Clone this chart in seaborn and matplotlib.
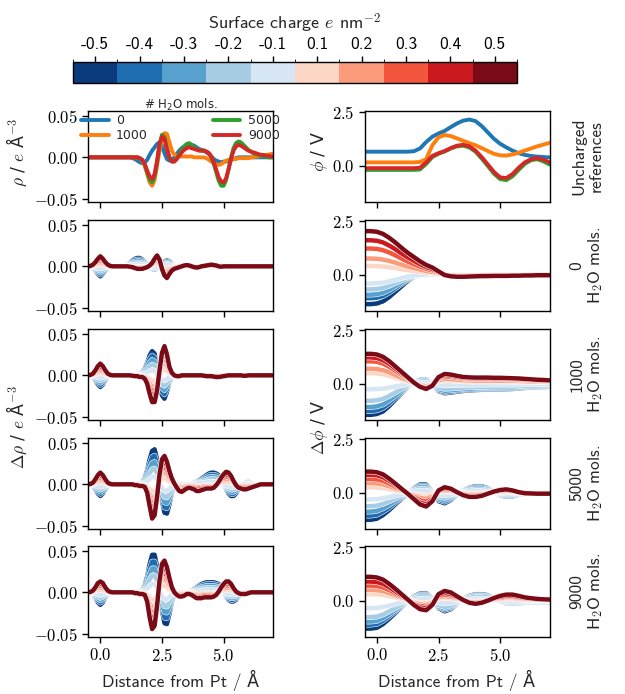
import numpy as np
import pandas as pd
import seaborn as sns
import matplotlib
matplotlib.use("Agg")
import matplotlib.pyplot as plt
import matplotlib.patheffects as pe
from matplotlib.colors import ListedColormap, BoundaryNorm
from matplotlib.ticker import FuncFormatter
import matplotlib.colorbar as mcolorbar

# ---------------- data ----------------
charges = [-0.5, -0.4, -0.3, -0.2, -0.1, 0.1, 0.2, 0.3, 0.4, 0.5]
charge_labels = ["-0.5", "-0.4", "-0.3", "-0.2", "-0.1", "0.1", "0.2", "0.3", "0.4", "0.5"]
charge_colors = ["#0b3b7c", "#1f6db1", "#58a1cf", "#a6cde3", "#d6e6f4",
                 "#fdd7c6", "#fb9b7b", "#f3553d", "#c9191e", "#7a0a16"]
n_water = ["0", "1000", "5000", "9000"]
ref_colors = ["#1f77b4", "#ff7f0e", "#2ca02c", "#d62728"]
row_names = ["Uncharged\nreferences", "0\nH$_2$O mols.", "1000\nH$_2$O mols.",
             "5000\nH$_2$O mols.", "9000\nH$_2$O mols."]

x_rho = np.round(np.arange(-0.5, 7.0001, 0.1), 2)    # 76 samples
x_phi = np.round(np.arange(-0.5, 7.0001, 0.25), 2)   # 31 samples

Z10 = [0.0] * 10

# uncharged reference charge densities (e / A^3)
rho_ref_0 = (Z10 +
             [0, 0, 0, 0, 0, 0, 0, 0, -0.001, -0.002] +
             [-0.004, -0.006, -0.007, -0.006, -0.003, 0.003, 0.008, 0.012, 0.016, 0.018] +
             [0.014, 0.005, -0.002, -0.004, -0.003, 0.000, 0.004, 0.008, 0.011, 0.013] +
             [0.015, 0.015, 0.015, 0.014, 0.012, 0.010, 0.009, 0.008, 0.006, 0.004] +
             [0.001, -0.002, -0.004, -0.005, -0.006, -0.005, -0.005, -0.004, -0.003, -0.002] +
             [-0.001, 0, 0, 0, 0, 0, 0, 0, 0, 0] +
             [0, 0, 0, 0, 0, 0])
rho_ref_1000 = (Z10 + Z10 +
                [0, -0.001, -0.004, -0.010, -0.020, -0.030, -0.034, -0.027, -0.010, 0.008] +
                [0.022, 0.029, 0.028, 0.018, 0.008, 0.003, 0.002, 0.002, 0.001, 0.001] +
                [0.001, 0.001, 0.001, 0.000, 0.000, 0.000, 0.000, 0.000, -0.001, -0.003] +
                [-0.005, -0.007, -0.009, -0.009, -0.008, -0.006, -0.004, -0.003, -0.002, -0.002] +
                [-0.002, -0.001, -0.001, -0.001, -0.001, -0.001, 0.000, 0.000, 0.001, 0.001] +
                [0.002, 0.002, 0.003, 0.003, 0.004, 0.004])
rho_ref_5000 = (Z10 + Z10 +
                [0, -0.001, -0.003, -0.009, -0.018, -0.027, -0.030, -0.023, -0.006, 0.015] +
                [0.027, 0.024, 0.011, 0.000, -0.005, -0.005, -0.001, 0.004, 0.009, 0.013] +
                [0.016, 0.017, 0.015, 0.012, 0.010, 0.009, 0.008, 0.008, 0.007, 0.005] +
                [0.000, -0.008, -0.018, -0.028, -0.034, -0.034, -0.027, -0.014, 0.000, 0.011] +
                [0.017, 0.019, 0.018, 0.015, 0.012, 0.009, 0.007, 0.005, 0.004, 0.003] +
                [0.002, 0.001, 0.001, 0.000, 0.000, 0.000])
rho_ref_9000 = (Z10 + Z10 +
                [0, -0.001, -0.003, -0.008, -0.016, -0.023, -0.026, -0.020, -0.004, 0.016] +
                [0.025, 0.022, 0.010, 0.000, -0.005, -0.005, -0.002, 0.002, 0.006, 0.009] +
                [0.011, 0.012, 0.011, 0.010, 0.009, 0.008, 0.008, 0.008, 0.007, 0.005] +
                [0.001, -0.006, -0.015, -0.024, -0.029, -0.030, -0.025, -0.014, -0.002, 0.008] +
                [0.013, 0.015, 0.014, 0.012, 0.010, 0.008, 0.007, 0.006, 0.005, 0.004] +
                [0.003, 0.003, 0.002, 0.002, 0.001, 0.001])

# uncharged reference potentials (V)
phi_ref_0 = [0.65, 0.65, 0.65, 0.65, 0.65, 0.65, 0.65, 0.65, 0.67, 0.80,
             1.10, 1.35, 1.50, 1.62, 1.80, 1.97, 2.10, 2.15, 2.08, 1.85,
             1.55, 1.25, 1.02, 0.85, 0.70, 0.58, 0.50, 0.45, 0.42, 0.40, 0.38]
phi_ref_1000 = [0.15, 0.15, 0.15, 0.15, 0.15, 0.15, 0.15, 0.15, 0.15, 0.17,
                0.30, 0.95, 1.32, 1.43, 1.38, 1.27, 1.16, 1.05, 0.95, 0.82,
                0.68, 0.55, 0.48, 0.47, 0.52, 0.60, 0.70, 0.80, 0.90, 0.98, 1.06]
phi_ref_5000 = [-0.20, -0.20, -0.20, -0.20, -0.20, -0.20, -0.20, -0.20, -0.20, -0.18,
                0.08, 0.40, 0.55, 0.66, 0.80, 0.90, 0.93, 0.85, 0.65, 0.33,
                -0.02, -0.38, -0.63, -0.68, -0.50, -0.20, 0.08, 0.25, 0.30, 0.20, 0.05]
phi_ref_9000 = [-0.12, -0.12, -0.12, -0.12, -0.12, -0.12, -0.12, -0.12, -0.12, -0.10,
                0.15, 0.45, 0.58, 0.68, 0.82, 0.93, 0.97, 0.90, 0.70, 0.40,
                0.05, -0.30, -0.55, -0.58, -0.40, -0.10, 0.15, 0.30, 0.35, 0.28, 0.15]

# charge density response, extreme charges (-0.5 blue / +0.5 red)
drho_0_neg = ([0, -0.0005, -0.002, -0.005, -0.009, -0.012, -0.009, -0.005, -0.002, -0.0005] +
              [0, 0, 0, 0, 0, 0.001, 0.002, 0.004, 0.007, 0.009] +
              [0.010, 0.010, 0.008, 0.005, 0.002, -0.001, -0.003, -0.004, -0.002, 0.001] +
              [0.004, 0.006, 0.007, 0.006, 0.003, 0.000, -0.002, -0.002, -0.001, 0] +
              [-0.0005, -0.001, -0.001, -0.0005, 0, 0, 0, 0, 0, -0.0005] +
              [-0.001, -0.001, -0.001, -0.0015, -0.0015, -0.0015, -0.001, -0.001, -0.0005, 0] +
              Z10 + [0, 0, 0, 0, 0, 0])
drho_0_pos = ([0, 0.0005, 0.002, 0.005, 0.009, 0.012, 0.009, 0.005, 0.002, 0.0005] +
              [0, 0, 0, 0, 0, 0, 0, -0.0005, -0.001, -0.002] +
              [-0.003, -0.003, -0.003, -0.002, -0.001, 0.001, 0.004, 0.009, 0.013, 0.008] +
              [-0.003, -0.011, -0.014, -0.009, -0.005, -0.003, -0.002, -0.001, 0.000, 0.001] +
              [0.0015, 0.001, 0.0, -0.001, -0.0015, -0.001, 0, 0.0005, 0.001, 0.0015] +
              [0.002, 0.0015, 0.001, 0, -0.0005, 0, 0, 0, 0, 0] +
              Z10 + [0, 0, 0, 0, 0, 0])
drho_1000_neg = ([0, -0.0005, -0.002, -0.006, -0.011, -0.014, -0.011, -0.006, -0.002, -0.0005] +
                 [0, 0, 0, 0, 0, 0, 0, 0, 0, 0.0005] +
                 [0.001, 0.002, 0.004, 0.008, 0.015, 0.024, 0.029, 0.026, 0.010, -0.011] +
                 [-0.024, -0.028, -0.020, -0.008, -0.002, 0.000, 0.001, 0.001, 0.001, 0.0005] +
                 [0.0005, 0, 0, 0, 0, 0, 0, 0, -0.0005, -0.001] +
                 [-0.0015, -0.002, -0.0025, -0.0025, -0.002, -0.0015, -0.001, -0.0005, 0, 0] +
                 Z10 + [0, 0, 0, 0, 0, 0])
drho_1000_pos = ([0, 0.0005, 0.002, 0.006, 0.011, 0.014, 0.011, 0.006, 0.002, 0.0005] +
                 [0, 0, 0, 0, 0, 0, 0, 0, -0.0005, -0.001] +
                 [-0.001, -0.002, -0.002, -0.004, -0.010, -0.022, -0.032, -0.032, -0.018, 0.006] +
                 [0.027, 0.035, 0.025, 0.010, 0.003, 0.000, -0.001, -0.001, 0, 0] +
                 [0, 0, 0, 0, 0, 0, 0, -0.0005, -0.001, -0.001] +
                 [-0.001, -0.0015, -0.002, -0.002, -0.0015, -0.001, -0.0005, 0, 0, 0] +
                 [0, 0, 0, -0.0005, -0.0005, 0, 0, 0, 0, 0] + [0, 0, 0, 0, 0, 0])
drho_5000_neg = ([0, -0.0005, -0.002, -0.006, -0.011, -0.014, -0.011, -0.006, -0.002, -0.0005] +
                 [0, 0, 0, 0, 0, 0, 0, 0, 0, 0.0005] +
                 [0.001, 0.001, 0.003, 0.008, 0.017, 0.030, 0.040, 0.042, 0.030, 0.006] +
                 [-0.020, -0.034, -0.035, -0.024, -0.010, -0.002, 0.001, 0.000, -0.001, -0.001] +
                 [0, 0.001, 0.001, 0.002, 0.003, 0.005, 0.007, 0.009, 0.011, 0.013] +
                 [0.014, 0.014, 0.013, 0.011, 0.006, 0.000, -0.006, -0.011, -0.014, -0.014] +
                 [-0.011, -0.006, -0.002, 0.001, 0.002, 0.003, 0.002, 0.001, 0, 0] +
                 [0, 0, 0, 0, 0, 0])
drho_5000_pos = ([0, 0.0005, 0.002, 0.006, 0.011, 0.014, 0.011, 0.006, 0.002, 0.0005] +
                 [0, 0, 0, 0, 0, 0, 0, 0, 0, -0.001] +
                 [-0.001, -0.002, -0.002, -0.003, -0.010, -0.026, -0.041, -0.037, -0.015, 0.012] +
                 [0.030, 0.034, 0.027, 0.016, 0.007, 0.001, -0.004, -0.008, -0.009, -0.007] +
                 [-0.005, -0.004, -0.005, -0.006, -0.008, -0.008, -0.007, -0.006, -0.005, -0.005] +
                 [-0.005, -0.004, -0.001, 0.003, 0.008, 0.012, 0.015, 0.014, 0.010, 0.004] +
                 [-0.001, -0.004, -0.005, -0.006, -0.006, -0.005, -0.004, -0.003, -0.002, -0.001] +
                 [0, 0, 0, 0, 0, 0])
drho_9000_neg = ([0, -0.0005, -0.002, -0.006, -0.012, -0.015, -0.012, -0.006, -0.002, -0.0005] +
                 [0, 0, 0, 0, 0, 0, 0, 0, 0, 0.0005] +
                 [0.001, 0.001, 0.003, 0.009, 0.019, 0.034, 0.045, 0.045, 0.031, 0.005] +
                 [-0.022, -0.037, -0.038, -0.026, -0.011, -0.003, 0.000, 0.000, -0.001, -0.001] +
                 [0, 0.001, 0.002, 0.004, 0.006, 0.008, 0.010, 0.011, 0.012, 0.012] +
                 [0.012, 0.012, 0.011, 0.010, 0.006, 0.001, -0.005, -0.009, -0.011, -0.011] +
                 [-0.009, -0.005, -0.002, 0.000, 0.001, 0.001, 0.001, 0.001, 0.001, 0.001] +
                 [0.001, 0.001, 0.001, 0.001, 0.001, 0.001])
drho_9000_pos = ([0, 0.0005, 0.002, 0.006, 0.011, 0.013, 0.011, 0.006, 0.002, 0.0005] +
                 [0, 0, 0, 0, 0, 0, 0, 0, 0, -0.001] +
                 [-0.001, -0.002, -0.002, -0.003, -0.011, -0.030, -0.044, -0.040, -0.016, 0.014] +
                 [0.034, 0.038, 0.030, 0.017, 0.006, 0.000, -0.003, -0.005, -0.005, -0.004] +
                 [-0.002, -0.002, -0.003, -0.005, -0.007, -0.007, -0.007, -0.006, -0.006, -0.006] +
                 [-0.006, -0.005, -0.003, 0.001, 0.006, 0.010, 0.013, 0.013, 0.010, 0.005] +
                 [0.001, -0.001, -0.002, -0.002, -0.002, -0.001, 0, 0, 0, 0] +
                 [0, 0, 0, 0, 0, 0])

# potential response, extreme charges
dphi_0_neg = [-1.38, -1.38, -1.35, -1.25, -1.05, -0.80, -0.55, -0.30, -0.10, -0.02,
              0.00, 0.02, 0.05, 0.03, 0.00, -0.03, -0.05, -0.05, -0.05, -0.05,
              -0.05, -0.05, -0.05, -0.05, -0.05, -0.05, -0.05, -0.05, -0.05, -0.05, -0.05]
dphi_0_pos = [2.03, 2.03, 2.00, 1.90, 1.72, 1.50, 1.25, 1.02, 0.82, 0.62,
              0.45, 0.33, 0.15, -0.02, -0.08, -0.10, -0.10, -0.09, -0.08, -0.07,
              -0.07, -0.06, -0.06, -0.06, -0.05, -0.05, -0.04, -0.04, -0.03, -0.03, -0.03]
dphi_1000_neg = [-1.46, -1.46, -1.42, -1.30, -1.05, -0.75, -0.45, -0.15, 0.05, 0.18,
                 0.20, 0.00, -0.35, -0.45, -0.42, -0.38, -0.34, -0.32, -0.30, -0.29,
                 -0.28, -0.27, -0.27, -0.26, -0.25, -0.23, -0.20, -0.19, -0.17, -0.16, -0.15]
dphi_1000_pos = [1.39, 1.39, 1.36, 1.25, 1.05, 0.80, 0.55, 0.30, 0.05, -0.15,
                 -0.25, -0.10, 0.30, 0.45, 0.42, 0.36, 0.31, 0.29, 0.28, 0.28,
                 0.28, 0.27, 0.27, 0.26, 0.25, 0.24, 0.22, 0.20, 0.18, 0.17, 0.15]
dphi_5000_neg = [-1.27, -1.27, -1.22, -1.05, -0.82, -0.55, -0.30, -0.05, 0.20, 0.38,
                 0.38, 0.05, -0.40, -0.50, -0.35, -0.10, 0.10, 0.22, 0.30, 0.30,
                 0.20, 0.02, -0.12, -0.20, -0.18, -0.10, -0.05, -0.05, -0.05, -0.05, -0.05]
dphi_5000_pos = [0.98, 0.98, 0.95, 0.85, 0.65, 0.42, 0.18, -0.05, -0.30, -0.55,
                 -0.65, -0.40, 0.10, 0.25, 0.18, 0.02, -0.12, -0.20, -0.20, -0.15,
                 -0.05, 0.05, 0.12, 0.15, 0.10, 0.02, -0.03, -0.04, -0.05, -0.05, -0.05]
dphi_9000_neg = [-1.31, -1.31, -1.27, -1.10, -0.85, -0.58, -0.30, -0.03, 0.20, 0.33,
                 0.35, 0.10, -0.35, -0.50, -0.40, -0.15, 0.08, 0.22, 0.30, 0.30,
                 0.25, 0.10, -0.05, -0.13, -0.15, -0.12, -0.10, -0.10, -0.10, -0.10, -0.10]
dphi_9000_pos = [1.11, 1.11, 1.08, 0.98, 0.78, 0.55, 0.30, 0.05, -0.20, -0.40,
                 -0.45, -0.20, 0.30, 0.45, 0.38, 0.20, 0.03, -0.10, -0.15, -0.10,
                 0.00, 0.12, 0.22, 0.28, 0.28, 0.22, 0.15, 0.11, 0.08, 0.06, 0.05]

amp_rho = [1.0, 0.82, 0.64, 0.45, 0.22, 0.22, 0.45, 0.64, 0.82, 1.0]
amp_phi_0 = [1.0, 0.8, 0.68, 0.5, 0.3, 0.2, 0.37, 0.6, 0.79, 1.0]
amp_phi_1000 = [1.0, 0.88, 0.75, 0.55, 0.18, 0.35, 0.5, 0.75, 0.88, 1.0]
amp_phi_5000 = [1.0, 0.85, 0.7, 0.5, 0.25, 0.25, 0.45, 0.65, 0.85, 1.0]
amp_phi_9000 = [1.0, 0.86, 0.75, 0.59, 0.27, 0.27, 0.45, 0.63, 0.8, 1.0]

rho_refs = [rho_ref_0, rho_ref_1000, rho_ref_5000, rho_ref_9000]
phi_refs = [phi_ref_0, phi_ref_1000, phi_ref_5000, phi_ref_9000]
drho = [(drho_0_neg, drho_0_pos), (drho_1000_neg, drho_1000_pos),
        (drho_5000_neg, drho_5000_pos), (drho_9000_neg, drho_9000_pos)]
dphi = [(dphi_0_neg, dphi_0_pos), (dphi_1000_neg, dphi_1000_pos),
        (dphi_5000_neg, dphi_5000_pos), (dphi_9000_neg, dphi_9000_pos)]
amp_phi = [amp_phi_0, amp_phi_1000, amp_phi_5000, amp_phi_9000]

# ---------------- style ----------------
sns.set_style("ticks")
plt.rcParams["font.family"] = ["cmss10", "DejaVu Sans"]
plt.rcParams["mathtext.fontset"] = "cm"
plt.rcParams["axes.edgecolor"] = "black"
plt.rcParams["xtick.color"] = "black"
plt.rcParams["ytick.color"] = "black"
plt.rcParams["axes.linewidth"] = 1.0

W, H = 625, 694
fig = plt.figure(figsize=(W / 100, H / 100), dpi=100)


def px_axes(x0, y0, w, h):
    return fig.add_axes([x0 / W, 1 - (y0 + h) / H, w / W, h / H])


row_tops = [111, 220, 329, 438, 546]
row_h = 91
left_x, right_x, col_w = 88, 364.5, 185
TICK_FS = 12
LABEL_FS = 12.5
LW = 3.2

fmt2 = FuncFormatter(lambda v, p: "$%s$" % ("%.2f" % (v + 0.0)).replace("-0.00", "0.00"))
fmt1 = FuncFormatter(lambda v, p: "$%s$" % ("%.1f" % (v + 0.0)).replace("-0.0", "0.0"))

stroke = [pe.Stroke(linewidth=LW + 0.8, foreground="white"), pe.Normal()]

for r in range(5):
    axl = px_axes(left_x, row_tops[r], col_w, row_h)
    axr = px_axes(right_x, row_tops[r], col_w, row_h)
    if r == 0:
        for k in range(4):
            sns.lineplot(x=x_rho, y=rho_refs[k], ax=axl, color=ref_colors[k], linewidth=2.8,
                         estimator=None, sort=False, label=n_water[k], legend=False)
            sns.lineplot(x=x_phi, y=phi_refs[k], ax=axr, color=ref_colors[k], linewidth=2.8,
                         estimator=None, sort=False, legend=False)
        leg = axl.legend(title="# H$\\mathregular{_2}$O mols.", ncol=2, frameon=False,
                         loc="upper center", bbox_to_anchor=(0.5, 1.16),
                         prop={"family": "DejaVu Sans", "size": 9},
                         handlelength=2.2, columnspacing=5.2, labelspacing=0.15,
                         borderpad=0.0, handletextpad=0.6, borderaxespad=0.0)
        leg.get_title().set_fontfamily("DejaVu Sans")
        leg.get_title().set_fontsize(8.5)
    else:
        neg, pos = drho[r - 1]
        pneg, ppos = dphi[r - 1]
        for i, q in enumerate(charges):
            base = neg if q < 0 else pos
            pbase = pneg if q < 0 else ppos
            y1 = np.array(base) * amp_rho[i]
            y2 = np.array(pbase) * amp_phi[r - 1][i]
            sns.lineplot(x=x_rho, y=y1, ax=axl, color=charge_colors[i], linewidth=LW,
                         estimator=None, sort=False, legend=False, path_effects=stroke)
            sns.lineplot(x=x_phi, y=y2, ax=axr, color=charge_colors[i], linewidth=LW,
                         estimator=None, sort=False, legend=False, path_effects=stroke)
    for ax in (axl, axr):
        ax.set_xlim(-0.5, 7.0)
        ax.set_xticks([0.0, 2.5, 5.0])
        ax.xaxis.set_major_formatter(fmt1)
        ax.tick_params(labelsize=TICK_FS, length=4, width=1, direction="out")
        ax.set_xlabel("")
        ax.set_ylabel("")
        if r < 4:
            ax.tick_params(labelbottom=False)
        else:
            ax.set_xlabel("Distance from Pt / Å", fontsize=LABEL_FS, labelpad=4)
    axl.set_ylim(-0.0535, 0.0555)
    axl.set_yticks([-0.05, 0.0, 0.05])
    axl.yaxis.set_major_formatter(fmt2)
    axr.set_ylim(-1.7, 2.55)
    axr.set_yticks([0.0, 2.5])
    axr.yaxis.set_major_formatter(fmt1)
    axr.text(1.205, 0.5, row_names[r], transform=axr.transAxes, rotation=90,
             ha="center", va="center", multialignment="center",
             fontsize=LABEL_FS, linespacing=1.15)

# y labels
YL = dict(rotation=90, ha="center", va="center", fontsize=LABEL_FS, family="DejaVu Sans")
fig.text(17 / W, 1 - 152 / H, r"$\rho$ / $e$ Å$^{-3}$", **YL)
fig.text(320 / W, 1 - 152 / H, r"$\phi$ / V", **YL)
fig.text(17 / W, 1 - 427 / H, r"$\Delta\rho$ / $e$ Å$^{-3}$", **YL)
fig.text(320 / W, 1 - 427 / H, r"$\Delta\phi$ / V", **YL)

# colorbar
cax = px_axes(73, 62, 444, 21)
cmap = ListedColormap(charge_colors)
norm = BoundaryNorm(np.arange(len(charges) + 1) - 0.5, len(charges))
cb = mcolorbar.ColorbarBase(cax, cmap=cmap, norm=norm, orientation="horizontal",
                            ticks=list(range(len(charges))))
cb.set_ticklabels(charge_labels)
cax.xaxis.set_ticks_position("top")
cax.xaxis.set_label_position("top")
cax.tick_params(labelsize=LABEL_FS, length=4, width=1, pad=3)
cb.outline.set_linewidth(1.0)
cb.set_label("Surface charge $e$ nm$^{-2}$", fontsize=LABEL_FS + 0.5, labelpad=6)

fig.savefig("out.png", dpi=100)
